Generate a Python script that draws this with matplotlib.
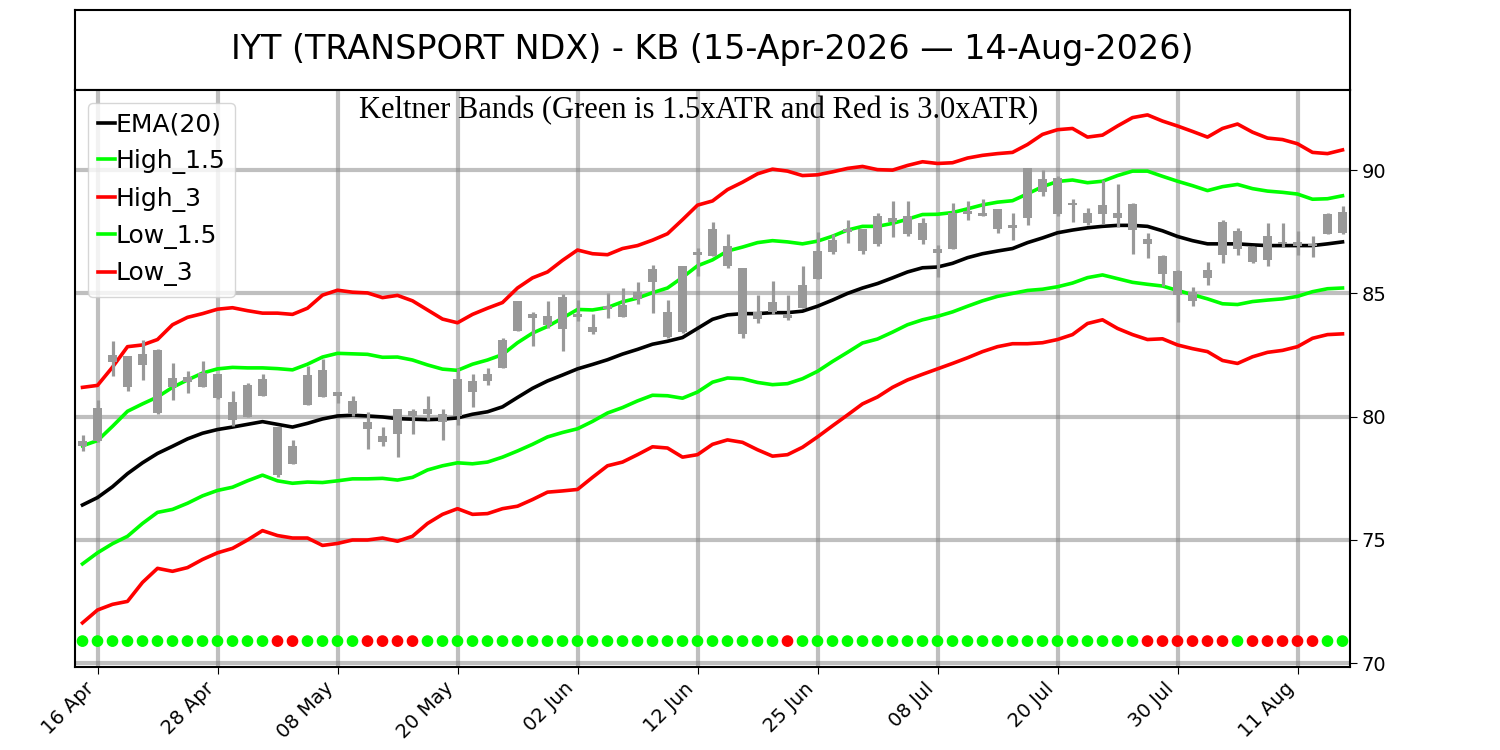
import numpy as np
import matplotlib.pyplot as plt

# -----------------------------------------------------
# Data (85 trading days, 15 Apr - 14 Aug 2026)
# -----------------------------------------------------
opens = [78.80, 79.03, 82.20, 81.19, 82.09, 82.72, 81.19, 81.40, 81.19, 81.72,
         80.60, 80.00, 80.85, 79.58, 78.08, 80.48, 80.78, 81.00, 80.63, 79.80,
         79.20, 79.28, 80.03, 80.10, 79.80, 80.03, 81.00, 81.45, 81.98, 83.48,
         84.00, 83.70, 83.55, 84.03, 83.43, 84.35, 84.03, 84.78, 85.45, 83.24,
         83.43, 86.55, 86.50, 86.12, 86.04, 83.96, 84.25, 83.99, 84.40, 85.60,
         86.67, 87.51, 87.61, 87.01, 87.91, 87.42, 87.87, 86.64, 86.79, 88.21,
         88.13, 88.43, 87.66, 88.06, 89.10, 89.70, 88.58, 88.28, 88.21, 88.06,
         88.61, 87.21, 86.52, 85.90, 84.70, 85.63, 86.57, 87.54, 86.87, 86.34,
         87.00, 86.94, 86.91, 87.42, 87.46]
closes = [79.03, 80.37, 82.50, 82.46, 82.54, 80.15, 81.57, 81.60, 81.79, 80.75,
          79.85, 81.30, 81.53, 77.63, 78.83, 81.68, 81.90, 80.85, 80.10, 79.50,
          78.98, 80.30, 80.25, 80.30, 80.10, 81.53, 81.45, 81.75, 83.10, 84.68,
          84.15, 84.10, 84.85, 84.18, 83.63, 84.50, 84.55, 85.07, 86.00, 84.25,
          86.10, 86.70, 87.60, 86.94, 83.36, 84.25, 84.67, 84.13, 85.33, 86.72,
          87.16, 87.61, 86.72, 88.13, 88.06, 88.13, 87.16, 86.79, 88.28, 88.36,
          88.25, 87.61, 87.76, 90.07, 89.66, 88.21, 88.66, 87.84, 88.58, 88.25,
          87.57, 87.01, 85.78, 84.93, 85.07, 85.93, 87.91, 86.79, 86.27, 87.31,
          87.10, 87.09, 87.01, 88.21, 88.31]
highs = [79.25, 80.67, 83.06, 82.46, 83.13, 82.76, 82.16, 81.87, 82.27, 81.72,
         81.04, 81.35, 81.75, 79.58, 79.06, 82.05, 82.35, 81.00, 80.85, 80.18,
         79.58, 80.33, 80.33, 80.85, 80.33, 81.98, 81.75, 81.98, 83.18, 84.68,
         84.23, 84.70, 84.97, 84.73, 84.18, 85.00, 85.22, 85.48, 86.16, 84.73,
         86.13, 86.84, 87.90, 87.39, 86.04, 84.93, 85.52, 84.93, 86.12, 87.51,
         87.42, 87.99, 87.61, 88.25, 88.73, 88.73, 88.06, 86.97, 88.66, 88.73,
         88.81, 88.43, 88.25, 90.10, 90.00, 89.75, 88.81, 88.46, 89.60, 89.43,
         88.66, 87.46, 86.57, 85.93, 85.27, 86.27, 87.96, 87.66, 86.94, 87.84,
         87.84, 87.54, 87.31, 88.28, 88.55]
lows = [78.60, 78.96, 81.64, 81.04, 81.49, 80.12, 80.67, 80.97, 81.19, 80.72,
        79.63, 79.97, 80.85, 77.55, 78.08, 80.48, 80.78, 80.55, 80.03, 78.68,
        78.83, 78.38, 79.28, 79.88, 79.05, 79.65, 80.40, 81.30, 81.98, 83.48,
        82.85, 83.60, 82.66, 83.88, 83.36, 83.99, 84.03, 84.58, 84.20, 83.20,
        83.38, 85.72, 86.50, 86.04, 83.21, 83.81, 84.18, 83.93, 84.40, 85.60,
        86.61, 87.06, 86.61, 86.94, 87.27, 87.31, 87.01, 85.67, 86.79, 87.99,
        88.13, 87.46, 87.16, 87.76, 88.96, 88.16, 87.91, 87.76, 87.81, 87.69,
        86.61, 86.42, 85.30, 83.84, 84.48, 85.33, 86.22, 86.57, 86.22, 86.12,
        86.87, 86.57, 86.49, 87.39, 87.39]

ema20 = [76.42, 76.72, 77.16, 77.69, 78.13, 78.51, 78.80, 79.10, 79.33, 79.48,
         79.58, 79.69, 79.80, 79.69, 79.58, 79.73, 79.91, 80.03, 80.06, 80.03,
         79.99, 79.92, 79.90, 79.88, 79.90, 79.95, 80.10, 80.20, 80.40, 80.78,
         81.15, 81.45, 81.69, 81.94, 82.12, 82.31, 82.54, 82.73, 82.94, 83.06,
         83.21, 83.58, 83.95, 84.13, 84.18, 84.18, 84.22, 84.22, 84.28, 84.48,
         84.73, 85.00, 85.22, 85.40, 85.63, 85.87, 86.04, 86.07, 86.22, 86.45,
         86.61, 86.72, 86.82, 87.06, 87.25, 87.46, 87.57, 87.66, 87.72, 87.76,
         87.76, 87.72, 87.54, 87.31, 87.14, 87.01, 87.01, 87.01, 86.97, 86.94,
         86.94, 86.94, 86.94, 87.01, 87.09]
high_15 = [78.82, 79.03, 79.61, 80.22, 80.52, 80.80, 81.19, 81.49, 81.77, 81.94,
           82.00, 81.98, 81.98, 81.95, 81.90, 82.13, 82.42, 82.57, 82.55, 82.53,
           82.41, 82.42, 82.30, 82.10, 81.93, 81.88, 82.13, 82.30, 82.52, 83.00,
           83.39, 83.66, 84.00, 84.35, 84.33, 84.43, 84.66, 84.81, 85.03, 85.22,
           85.65, 86.12, 86.36, 86.72, 86.88, 87.06, 87.14, 87.09, 87.01, 87.12,
           87.32, 87.57, 87.72, 87.72, 87.84, 88.01, 88.20, 88.21, 88.28, 88.43,
           88.59, 88.70, 88.76, 89.04, 89.33, 89.54, 89.60, 89.49, 89.55, 89.78,
           89.96, 89.96, 89.75, 89.55, 89.37, 89.17, 89.33, 89.42, 89.25, 89.15,
           89.10, 89.03, 88.82, 88.84, 88.96]
high_3 = [81.19, 81.27, 82.01, 82.84, 82.91, 83.13, 83.73, 84.03, 84.18, 84.36,
          84.42, 84.30, 84.20, 84.20, 84.15, 84.40, 84.93, 85.13, 85.05, 85.02,
          84.83, 84.92, 84.70, 84.33, 83.96, 83.81, 84.15, 84.40, 84.63, 85.22,
          85.63, 85.87, 86.34, 86.76, 86.61, 86.57, 86.82, 86.94, 87.16, 87.42,
          87.99, 88.58, 88.75, 89.21, 89.51, 89.85, 90.04, 89.96, 89.78, 89.81,
          89.93, 90.07, 90.15, 90.02, 90.00, 90.19, 90.34, 90.27, 90.30, 90.49,
          90.60, 90.67, 90.72, 91.04, 91.45, 91.64, 91.69, 91.34, 91.42, 91.79,
          92.13, 92.24, 91.99, 91.79, 91.57, 91.34, 91.69, 91.87, 91.54, 91.30,
          91.24, 91.07, 90.72, 90.67, 90.82]
low_15 = [74.03, 74.48, 74.85, 75.15, 75.67, 76.12, 76.24, 76.49, 76.79, 77.01,
          77.14, 77.40, 77.63, 77.40, 77.30, 77.35, 77.33, 77.40, 77.48, 77.48,
          77.50, 77.43, 77.54, 77.84, 78.01, 78.13, 78.09, 78.16, 78.36, 78.61,
          78.88, 79.18, 79.36, 79.51, 79.81, 80.15, 80.37, 80.64, 80.87, 80.85,
          80.75, 81.00, 81.40, 81.57, 81.54, 81.39, 81.30, 81.34, 81.54, 81.84,
          82.24, 82.61, 82.99, 83.15, 83.43, 83.73, 83.93, 84.07, 84.25, 84.48,
          84.70, 84.88, 85.00, 85.12, 85.17, 85.27, 85.42, 85.64, 85.75, 85.60,
          85.45, 85.37, 85.30, 85.12, 84.95, 84.78, 84.58, 84.55, 84.67, 84.73,
          84.78, 84.88, 85.07, 85.19, 85.22]
low_3 = [71.64, 72.16, 72.39, 72.51, 73.28, 73.85, 73.73, 73.88, 74.21, 74.48,
         74.66, 75.00, 75.38, 75.18, 75.08, 75.08, 74.78, 74.86, 75.00, 75.00,
         75.08, 74.95, 75.15, 75.67, 76.04, 76.27, 76.04, 76.07, 76.27, 76.37,
         76.64, 76.94, 76.99, 77.05, 77.54, 78.01, 78.16, 78.46, 78.78, 78.73,
         78.36, 78.46, 78.88, 79.06, 78.96, 78.66, 78.40, 78.46, 78.76, 79.18,
         79.63, 80.07, 80.52, 80.80, 81.19, 81.49, 81.72, 81.94, 82.16, 82.39,
         82.64, 82.84, 82.96, 82.96, 83.00, 83.13, 83.33, 83.78, 83.93, 83.58,
         83.33, 83.13, 83.16, 82.91, 82.76, 82.64, 82.28, 82.16, 82.43, 82.61,
         82.69, 82.84, 83.18, 83.33, 83.36]

# G = price inside the 1.5xATR band, R = outside
signal = list("GGGGGGGGGGGGGRRGGGGRRRRGGGGGGGGGGGGGGGGGGGGGGGGRGGGGGGGGGGGGGGGGGGGGGGGRRRRRRGRRRRRGG")

tick_labels = ["16 Apr", "28 Apr", "08 May", "20 May", "02 Jun", "12 Jun",
               "25 Jun", "08 Jul", "20 Jul", "30 Jul", "11 Aug"]

title = "IYT (TRANSPORT NDX) - KB (15-Apr-2026 \u2014 14-Aug-2026)"
subtitle = "Keltner Bands (Green is 1.5xATR and Red is 3.0xATR)"

# -----------------------------------------------------
# Figure
# -----------------------------------------------------
x = np.arange(len(closes))
fig = plt.figure(figsize=(15, 7.5), dpi=100)

ax_t = fig.add_axes([0.05, 0.88, 0.85, 0.1067])
ax_t.set_xticks([])
ax_t.set_yticks([])
for s in ax_t.spines.values():
    s.set_linewidth(1.5)
ax_t.text(0.5, 0.5, title, ha="center", va="center", fontsize=24,
          transform=ax_t.transAxes)

ax = fig.add_axes([0.05, 0.1107, 0.85, 0.7693])

# bands
ax.plot(x, ema20, color="black", lw=2.6, label="EMA(20)", zorder=3)
ax.plot(x, high_15, color="lime", lw=2.6, label="High_1.5", zorder=3)
ax.plot(x, high_3, color="red", lw=2.6, label="High_3", zorder=3)
ax.plot(x, low_15, color="lime", lw=2.6, label="Low_1.5", zorder=3)
ax.plot(x, low_3, color="red", lw=2.6, label="Low_3", zorder=3)

# candles (all grey)
o = np.array(opens)
c = np.array(closes)
ax.vlines(x, lows, highs, color="#999999", lw=2.3, zorder=4)
ax.bar(x, np.abs(c - o), bottom=np.minimum(o, c), width=0.65,
       color="#999999", zorder=4)

# signal dots
dot_colors = ["lime" if s == "G" else "red" for s in signal]
ax.scatter(x, [70.9] * len(x), s=55, c=dot_colors, zorder=5)

ax.set_xlim(-0.5, 84.5)
ax.set_ylim(69.85, 93.25)
ax.set_yticks([70, 75, 80, 85, 90])
ax.yaxis.tick_right()
ax.set_xticks(np.arange(1, len(x), 8))
ax.set_xticklabels(tick_labels, rotation=45, ha="right")
ax.tick_params(labelsize=14, length=5)
ax.grid(True, color="gray", alpha=0.5, lw=3)
ax.set_axisbelow(True)
for s in ax.spines.values():
    s.set_linewidth(1.5)

ax.text(0.489, 0.99, subtitle, transform=ax.transAxes, ha="center", va="top",
        fontsize=22, family="Liberation Serif", zorder=6)

ax.legend(loc="upper left", fontsize=18, handlelength=0.7, handletextpad=0.0,
          labelspacing=0.5, borderpad=0.4)

plt.savefig("out.png", dpi=100)
